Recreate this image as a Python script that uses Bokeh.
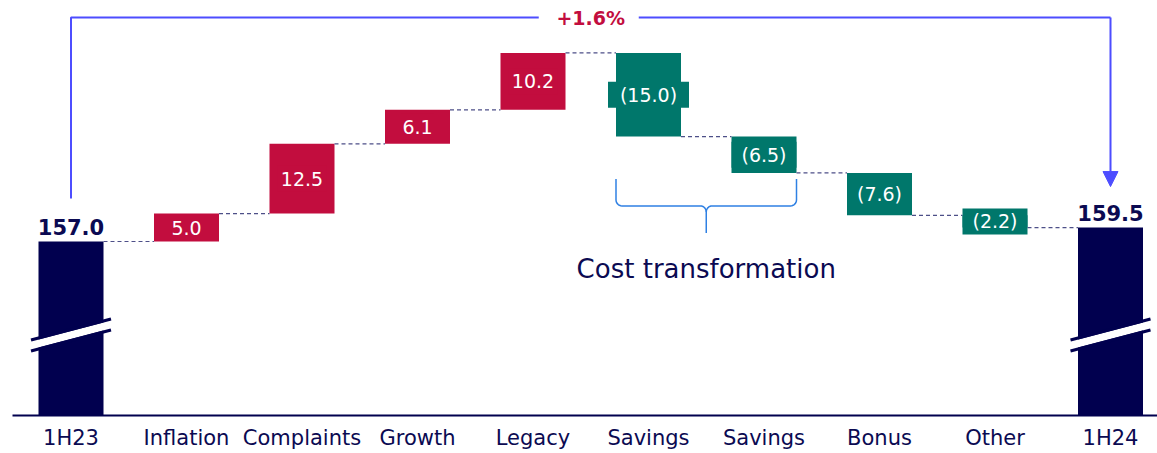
import numpy as np
from bokeh.plotting import figure
from bokeh.models import ColumnDataSource, Arrow, NormalHead, Range1d
from bokeh.embed import file_html
from bokeh.resources import INLINE
from bokeh.core.properties import value

# ---------------- data ----------------
categories = ["1H23", "Inflation", "Complaints", "Growth", "Legacy",
              "Savings", "Savings", "Bonus", "Other", "1H24"]
changes = [157.0, 5.0, 12.5, 6.1, 10.2, -15.0, -6.5, -7.6, -2.2, 159.5]
is_total = [True, False, False, False, False, False, False, False, False, True]
value_labels = ["157.0", "5.0", "12.5", "6.1", "10.2", "(15.0)", "(6.5)", "(7.6)", "(2.2)", "159.5"]
growth_label = "+1.6%"
group_label = "Cost transformation"
group_members = [5, 6]          # indices covered by the brace
axis_floor = 125.82             # value shown at the (broken) baseline

# ---------------- style ----------------
FONT = "DejaVu Sans"
NAVY = "#01004f"
TEXT_NAVY = "#0b0a52"
RED = "#c20d3e"
TEAL = "#00776b"
BLUE = "#4d4dff"
BRACE = "#2f80e3"
DASH = "#4d4f88"

W, H = 1157, 453
PX_X = 115.5          # pixels per category
PX_Y = 5.58           # pixels per value unit
x_start = -70.5 / PX_X
x_end = x_start + W / PX_X
y_top = axis_floor + 415 / PX_Y
y_bot = y_top - H / PX_Y
bw = 65 / PX_X        # bar width in category units


def dx(px):
    return px / PX_X


def dy(px):
    return px / PX_Y


# ---------------- waterfall geometry ----------------
idx = list(range(len(categories)))
bottoms, tops, colors, levels = [], [], [], []
running = 0.0
for v, tot in zip(changes, is_total):
    if tot:
        bottoms.append(axis_floor)
        tops.append(v)
        colors.append(NAVY)
        running = v
    else:
        new = running + v
        bottoms.append(min(running, new))
        tops.append(max(running, new))
        colors.append(RED if v > 0 else TEAL)
        running = new
    levels.append(running)

src = ColumnDataSource(dict(x=idx, bottom=bottoms, top=tops, color=colors))

p = figure(width=W, height=H, x_range=Range1d(x_start, x_end), y_range=Range1d(y_bot, y_top),
           output_backend="svg", toolbar_location=None, min_border=0,
           x_axis_location=None, y_axis_location=None, outline_line_color=None)
p.grid.visible = False
p.background_fill_color = "white"

p.vbar(x="x", width=bw, bottom="bottom", top="top", fill_color="color",
       line_color=None, source=src)

# connectors
cx0 = [i + bw / 2 for i in idx[:-1]]
cx1 = [i + 1 - bw / 2 for i in idx[:-1]]
p.segment(x0=cx0, y0=levels[:-1], x1=cx1, y1=levels[:-1], line_color=DASH,
          line_width=1.2, line_dash="4 3")

# axis break marks on total bars
for i, tot in enumerate(is_total):
    if not tot:
        continue
    xl, xr = i - dx(40), i + dx(40)
    yl = axis_floor + dy(415 - 341)
    yr = yl + dy(21)
    gap = dy(8)
    p.patch([xl, xr, xr, xl], [yl, yr, yr - gap, yl - gap], fill_color="white", line_color=None)
    p.multi_line([[xl, xr], [xl, xr]], [[yl + dy(1.5), yr + dy(1.5)], [yl - gap - dy(1.5), yr - gap - dy(1.5)]],
                 line_color=NAVY, line_width=3)

# baseline
p.segment(x0=[x_start + dx(12)], y0=[axis_floor], x1=[x_end], y1=[axis_floor],
          line_color=NAVY, line_width=2)

# value labels for deltas (label box behind text, bar-coloured)
d_idx = [i for i in idx if not is_total[i]]
lab_src = ColumnDataSource(dict(
    x=d_idx,
    y=[(bottoms[i] + tops[i]) / 2 for i in d_idx],
    t=[value_labels[i] for i in d_idx],
    c=[colors[i] for i in d_idx],
    bw=[16 * len(value_labels[i]) - 15 for i in d_idx],
))
p.rect(x="x", y="y", width="bw", height=26, width_units="screen", height_units="screen",
       fill_color="c", line_color=None, source=lab_src)
p.text(x="x", y="y", text="t", source=lab_src, text_color="white",
       text_font=value(FONT), text_font_size="19px", text_align="center",
       text_baseline="middle")

# total labels
t_idx = [i for i in idx if is_total[i]]
p.text(x=t_idx, y=[tops[i] + dy(7) for i in t_idx], text=[value_labels[i] for i in t_idx],
       text_color=TEXT_NAVY, text_font=value(FONT), text_font_size="21px",
       text_font_style="bold", text_align="center", text_baseline="bottom")

# category labels
p.text(x=idx, y=[axis_floor - dy(10)] * len(idx), text=categories, text_color=TEXT_NAVY,
       text_font=value(FONT), text_font_size="21px", text_align="center",
       text_baseline="top")

# growth annotation
first, last = t_idx[0], t_idx[-1]
y_line = y_top - dy(17)
mid = (first + last) / 2
p.line([first, first, mid - dx(52)], [tops[first] + dy(43), y_line, y_line],
       line_color=BLUE, line_width=2)
p.line([mid + dx(48), last], [y_line, y_line], line_color=BLUE, line_width=2)
p.add_layout(Arrow(end=NormalHead(size=15, fill_color=BLUE, line_color=BLUE),
                   x_start=last, y_start=y_line, x_end=last, y_end=tops[last] + dy(41),
                   line_color=BLUE, line_width=2))
p.text(x=[mid], y=[y_line], text=[growth_label], text_color=RED, text_font=value(FONT),
       text_font_size="19px", text_font_style="bold", text_align="center",
       text_baseline="middle")

# brace under the cost transformation group
g0, g1 = group_members[0] - bw / 2, group_members[-1] + bw / 2
gm = (group_members[0] + group_members[-1]) / 2
y_b_top = min(bottoms[i] for i in group_members) - dy(6)
y_b_mid = y_b_top - dy(27)
y_b_bot = y_b_mid - dy(27)
r = 6
th = np.linspace(0, np.pi / 2, 8)
left_x = ([g0, g0] + list(g0 + dx(r) - dx(r) * np.cos(th)) +
          list(gm - dx(r) + dx(r) * np.sin(th)) + [gm])
left_y = ([y_b_top, y_b_mid + dy(r)] + list(y_b_mid + dy(r) - dy(r) * np.sin(th)) +
          list(y_b_mid - dy(r) + dy(r) * np.cos(th)) + [y_b_bot])
right_x = ([g1, g1] + list(g1 - dx(r) + dx(r) * np.cos(th)) +
           list(gm + dx(r) - dx(r) * np.sin(th)))
right_y = ([y_b_top, y_b_mid + dy(r)] + list(y_b_mid + dy(r) - dy(r) * np.sin(th)) +
           list(y_b_mid - dy(r) + dy(r) * np.cos(th)))
p.multi_line([left_x, right_x], [left_y, right_y], line_color=BRACE, line_width=1.5)
p.text(x=[gm], y=[y_b_bot - dy(36)], text=[group_label], text_color=TEXT_NAVY,
       text_font=value(FONT), text_font_size="26px", text_align="center",
       text_baseline="middle")

open("out.html", "w").write(file_html(p, INLINE))
